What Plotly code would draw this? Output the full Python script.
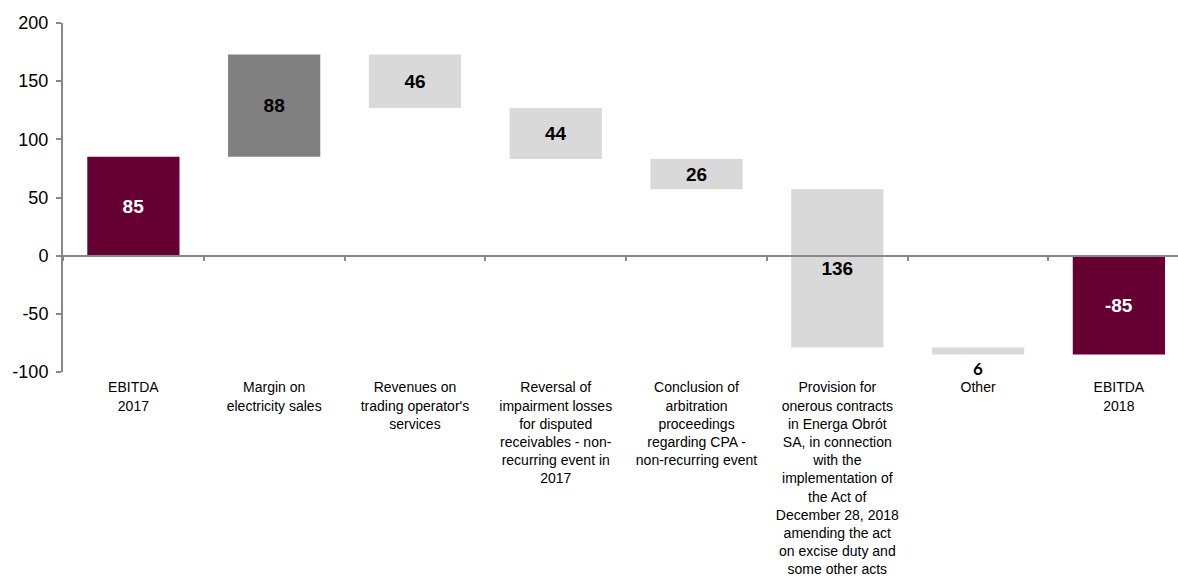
import plotly.graph_objects as go

# EBITDA bridge 2017 -> 2018 (PLN m)
categories = [
    "EBITDA<br>2017",
    "Margin on<br>electricity sales",
    "Revenues on<br>trading operator's<br>services",
    "Reversal of<br>impairment losses<br>for disputed<br>receivables - non-<br>recurring event in<br>2017",
    "Conclusion of<br>arbitration<br>proceedings<br>regarding CPA -<br>non-recurring event",
    "Provision for<br>onerous contracts<br>in Energa Obrót<br>SA, in connection<br>with the<br>implementation of<br>the Act of<br>December 28, 2018<br>amending the act<br>on excise duty and<br>some other acts",
    "Other",
    "EBITDA<br>2018",
]
start_value = 85
changes = [88, -46, -44, -26, -136, -6]
end_value = -85

y_ticks = [200, 150, 100, 50, 0, -50, -100]

MAROON = "#660033"
DARK_GREY = "#808080"
LIGHT_GREY = "#D9D9D9"
AXIS_GREY = "#888888"

# floating bars: base + signed height
bases, heights, colors, texts, text_colors, positions = [], [], [], [], [], []
bases.append(0)
heights.append(start_value)
colors.append(MAROON)
texts.append(f"<b>{start_value}</b>")
text_colors.append("white")
positions.append("inside")

level = start_value
for i, d in enumerate(changes):
    bases.append(level)
    heights.append(d)
    colors.append(DARK_GREY if d > 0 else LIGHT_GREY)
    texts.append(f"<b>{abs(d)}</b>")
    text_colors.append("black")
    positions.append("outside" if i == len(changes) - 1 else "inside")
    level += d

bases.append(0)
heights.append(end_value)
colors.append(MAROON)
texts.append(f"<b>{end_value}</b>")
text_colors.append("white")
positions.append("inside")

fig = go.Figure()
fig.add_trace(go.Bar(
    x=categories,
    y=heights,
    base=bases,
    width=0.655,
    marker=dict(color=colors, line=dict(width=0)),
    text=texts,
    textposition=positions,
    insidetextanchor="middle",
    textangle=0,
    constraintext="none",
    insidetextfont=dict(family="Liberation Sans, Arial, sans-serif", size=19, color=text_colors),
    outsidetextfont=dict(family="Lato, Open Sans, sans-serif", size=17, color="black"),
    cliponaxis=False,
    hoverinfo="skip",
))

fig.update_layout(
    width=1178,
    height=580,
    margin=dict(l=63, r=0, t=23, b=208),
    paper_bgcolor="white",
    plot_bgcolor="white",
    showlegend=False,
    bargap=0.345,
    font=dict(family="Liberation Sans, Arial, sans-serif", color="black"),
)

fig.update_yaxes(
    range=[-100, 200],
    automargin=False,
    tickvals=y_ticks,
    ticktext=[str(v) for v in y_ticks],
    showgrid=False,
    zeroline=False,
    showline=True,
    linecolor=AXIS_GREY,
    linewidth=2,
    ticks="outside",
    ticklen=5,
    tickwidth=1.5,
    tickcolor=AXIS_GREY,
    ticklabelstandoff=4,
    tickfont=dict(size=18, color="black"),
)

fig.update_xaxes(
    type="category",
    range=[-0.5, 7.42],
    automargin=False,
    anchor="free",
    position=1 / 3,
    showgrid=False,
    zeroline=False,
    showline=True,
    linecolor=AXIS_GREY,
    linewidth=2,
    ticks="outside",
    tickson="boundaries",
    ticklen=4,
    tickwidth=1.5,
    tickcolor=AXIS_GREY,
    ticklabelstandoff=119,
    tickfont=dict(size=14, color="black"),
)

fig.write_html("out.html")
